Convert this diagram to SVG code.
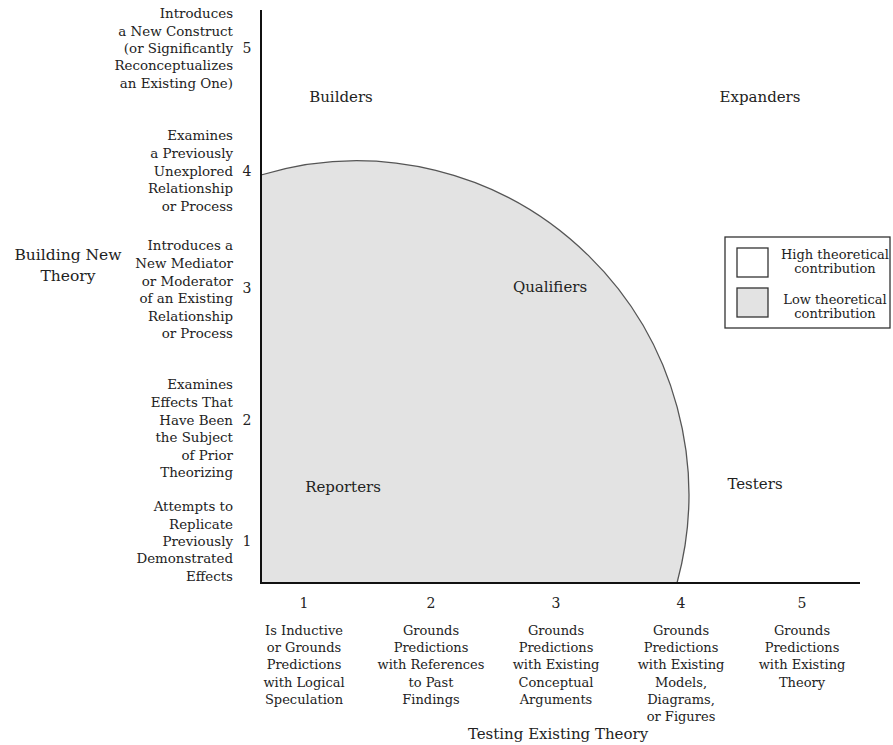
<svg xmlns="http://www.w3.org/2000/svg" width="893" height="745" viewBox="0 0 893 745">
<style>
text{font-family:"DejaVu Serif","Liberation Serif",serif;fill:#222;}
.lab{font-size:13.4px;text-anchor:end;}
.num{font-size:14px;text-anchor:middle;}
.bot{font-size:13px;text-anchor:middle;}
.quad{font-size:15px;text-anchor:middle;}
.axis{font-size:15.5px;text-anchor:middle;}
.xt{font-size:15px;text-anchor:middle;}
.leg{font-size:13px;text-anchor:middle;}
.ax{stroke:#111;stroke-width:2;fill:none;}
</style>
<rect width="893" height="745" fill="#fff"/>
<g id="low-region">
<path d="M261,583 L261,175 A332,334 0 0 1 677,583 Z" fill="#e3e3e3" stroke="#555" stroke-width="1.3"/>
</g>
<g id="connectors">
<line class="ax" x1="261" y1="10" x2="261" y2="584"/>
<line class="ax" x1="260" y1="583" x2="860" y2="583"/>
</g>
<g id="y-labels">
<g id="y5">
<text class="lab" x="233" y="18">Introduces</text>
<text class="lab" x="233" y="36">a New Construct</text>
<text class="lab" x="233" y="53">(or Significantly</text>
<text class="lab" x="233" y="70">Reconceptualizes</text>
<text class="lab" x="233" y="88">an Existing One)</text>
<text class="num" x="247" y="53">5</text>
</g>
<g id="y4">
<text class="lab" x="233" y="140">Examines</text>
<text class="lab" x="233" y="158">a Previously</text>
<text class="lab" x="233" y="176">Unexplored</text>
<text class="lab" x="233" y="193">Relationship</text>
<text class="lab" x="233" y="211">or Process</text>
<text class="num" x="247" y="176">4</text>
</g>
<g id="y3">
<text class="lab" x="233" y="250">Introduces a</text>
<text class="lab" x="233" y="268">New Mediator</text>
<text class="lab" x="233" y="286">or Moderator</text>
<text class="lab" x="233" y="303">of an Existing</text>
<text class="lab" x="233" y="321">Relationship</text>
<text class="lab" x="233" y="338">or Process</text>
<text class="num" x="247" y="293">3</text>
</g>
<g id="y2">
<text class="lab" x="233" y="389">Examines</text>
<text class="lab" x="233" y="407">Effects That</text>
<text class="lab" x="233" y="425">Have Been</text>
<text class="lab" x="233" y="442">the Subject</text>
<text class="lab" x="233" y="460">of Prior</text>
<text class="lab" x="233" y="477">Theorizing</text>
<text class="num" x="247" y="425">2</text>
</g>
<g id="y1">
<text class="lab" x="233" y="511">Attempts to</text>
<text class="lab" x="233" y="529">Replicate</text>
<text class="lab" x="233" y="546">Previously</text>
<text class="lab" x="233" y="563">Demonstrated</text>
<text class="lab" x="233" y="581">Effects</text>
<text class="num" x="247" y="546">1</text>
</g>
</g>
<g id="y-title">
<text class="axis" x="68" y="260">Building New</text>
<text class="axis" x="68" y="281">Theory</text>
</g>
<g id="x-labels">
<g id="x1">
<text class="num" x="304" y="608">1</text>
<text class="bot" x="304" y="635">Is Inductive</text>
<text class="bot" x="304" y="652">or Grounds</text>
<text class="bot" x="304" y="669">Predictions</text>
<text class="bot" x="304" y="687">with Logical</text>
<text class="bot" x="304" y="704">Speculation</text>
</g>
<g id="x2">
<text class="num" x="431" y="608">2</text>
<text class="bot" x="431" y="635">Grounds</text>
<text class="bot" x="431" y="652">Predictions</text>
<text class="bot" x="431" y="669">with References</text>
<text class="bot" x="431" y="687">to Past</text>
<text class="bot" x="431" y="704">Findings</text>
</g>
<g id="x3">
<text class="num" x="556" y="608">3</text>
<text class="bot" x="556" y="635">Grounds</text>
<text class="bot" x="556" y="652">Predictions</text>
<text class="bot" x="556" y="669">with Existing</text>
<text class="bot" x="556" y="687">Conceptual</text>
<text class="bot" x="556" y="704">Arguments</text>
</g>
<g id="x4">
<text class="num" x="681" y="608">4</text>
<text class="bot" x="681" y="635">Grounds</text>
<text class="bot" x="681" y="652">Predictions</text>
<text class="bot" x="681" y="669">with Existing</text>
<text class="bot" x="681" y="687">Models,</text>
<text class="bot" x="681" y="704">Diagrams,</text>
<text class="bot" x="681" y="721">or Figures</text>
</g>
<g id="x5">
<text class="num" x="802" y="608">5</text>
<text class="bot" x="802" y="635">Grounds</text>
<text class="bot" x="802" y="652">Predictions</text>
<text class="bot" x="802" y="669">with Existing</text>
<text class="bot" x="802" y="687">Theory</text>
</g>
</g>
<g id="x-title">
<text class="xt" x="558" y="739">Testing Existing Theory</text>
</g>
<g id="quadrants">
<text id="builders" class="quad" x="341" y="102">Builders</text>
<text id="expanders" class="quad" x="760" y="102">Expanders</text>
<text id="qualifiers" class="quad" x="550" y="292">Qualifiers</text>
<text id="reporters" class="quad" x="343" y="492">Reporters</text>
<text id="testers" class="quad" x="755" y="489">Testers</text>
</g>
<g id="legend">
<rect x="725" y="237" width="165" height="91" fill="#fff" stroke="#333" stroke-width="1.3"/>
<rect x="737" y="248" width="31" height="29" fill="#fff" stroke="#333" stroke-width="1.3"/>
<rect x="737" y="288" width="31" height="29" fill="#e3e3e3" stroke="#333" stroke-width="1.3"/>
<text class="leg" x="835" y="259">High theoretical</text>
<text class="leg" x="835" y="273">contribution</text>
<text class="leg" x="835" y="304">Low theoretical</text>
<text class="leg" x="835" y="318">contribution</text>
</g>
</svg>
